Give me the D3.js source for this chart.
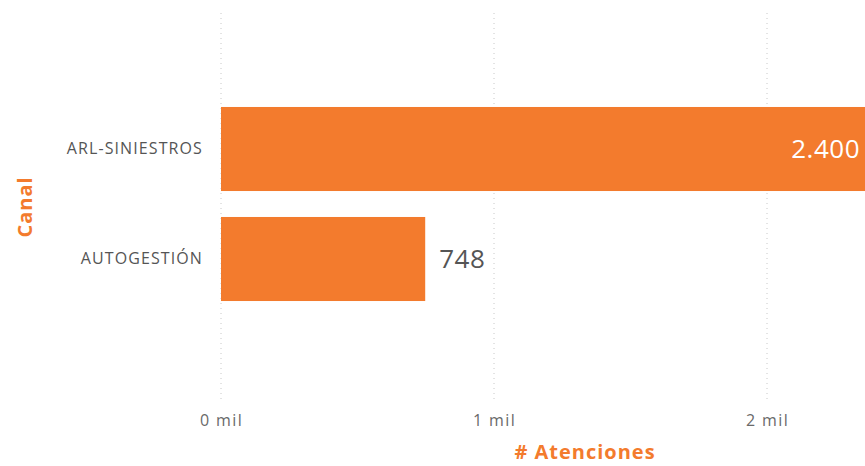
<!DOCTYPE html>
<html>
<head>
<meta charset="utf-8">
<script src="https://cdn.jsdelivr.net/npm/d3@7"></script>
<style>
  body { margin: 0; background: #fff; }
  svg { display: block; font-family: "Open Sans", sans-serif; }
</style>
</head>
<body>
<svg id="chart" width="865" height="466"></svg>
<script>
// datos del gráfico
var categorias = ["ARL-SINIESTROS", "AUTOGESTIÓN"];
var atenciones = [2400, 748];
var etiquetas = ["2.400", "748"];
var ticks = [0, 1000, 2000];
var tickLabels = ["0 mil", "1 mil", "2 mil"];

var naranja = "#F37B2D";
var svg = d3.select("#chart");

var x = d3.scaleLinear().domain([0, 2000]).range([221, 767]);
var y = d3.scaleBand().domain(categorias).range([94, 314]).paddingInner(0.236).paddingOuter(0.118);

// lineas de cuadricula punteadas
svg.append("g").selectAll("line")
  .data(ticks)
  .enter()
  .append("line")
  .attr("x1", function (d) { return x(d); })
  .attr("x2", function (d) { return x(d); })
  .attr("y1", 13)
  .attr("y2", 402)
  .attr("stroke", "#c8c8c8")
  .attr("stroke-width", 1)
  .attr("stroke-dasharray", "1,4");

// eje x
var xAxis = d3.axisBottom(x)
  .tickValues(ticks)
  .tickSize(0)
  .tickFormat(function (d, i) { return tickLabels[i]; });
var gx = svg.append("g").attr("transform", "translate(0,412)").call(xAxis);
gx.select(".domain").remove();
gx.selectAll("text")
  .attr("font-size", 16)
  .attr("letter-spacing", 1.4)
  .attr("font-family", "Open Sans, sans-serif")
  .attr("fill", "#6a6a6a");

// barras
svg.append("g").selectAll("rect")
  .data(atenciones)
  .enter()
  .append("rect")
  .attr("x", x(0))
  .attr("y", function (d, i) { return y(categorias[i]); })
  .attr("width", function (d) { return x(d) - x(0); })
  .attr("height", y.bandwidth())
  .attr("fill", naranja);

// eje y (categorias)
var yAxis = d3.axisLeft(y).tickSize(0).tickPadding(18);
var gy = svg.append("g").attr("transform", "translate(" + x(0) + ",0)").call(yAxis);
gy.select(".domain").remove();
gy.selectAll("text")
  .attr("font-size", 16)
  .attr("letter-spacing", 1.1)
  .attr("font-family", "Open Sans, sans-serif")
  .attr("fill", "#555");

// etiquetas de valor
svg.append("g").selectAll("text")
  .data(atenciones)
  .enter()
  .append("text")
  .attr("x", function (d) { return x(d) > 865 ? 860 : x(d) + 14; })
  .attr("y", function (d, i) { return y(categorias[i]) + y.bandwidth() / 2; })
  .attr("dy", "0.35em")
  .attr("text-anchor", function (d) { return x(d) > 865 ? "end" : "start"; })
  .attr("font-size", 26)
  .attr("letter-spacing", 0.5)
  .attr("fill", function (d) { return x(d) > 865 ? "#fff" : "#555"; })
  .text(function (d, i) { return etiquetas[i]; });

// titulos de ejes
svg.append("text")
  .attr("x", 585)
  .attr("y", 459)
  .attr("text-anchor", "middle")
  .attr("font-size", 20)
  .attr("letter-spacing", 1)
  .attr("font-weight", "bold")
  .attr("fill", naranja)
  .text("# Atenciones");

svg.append("text")
  .attr("transform", "translate(32,207) rotate(-90)")
  .attr("text-anchor", "middle")
  .attr("font-size", 20)
  .attr("letter-spacing", 1)
  .attr("font-weight", "bold")
  .attr("fill", naranja)
  .text("Canal");
</script>
</body>
</html>
